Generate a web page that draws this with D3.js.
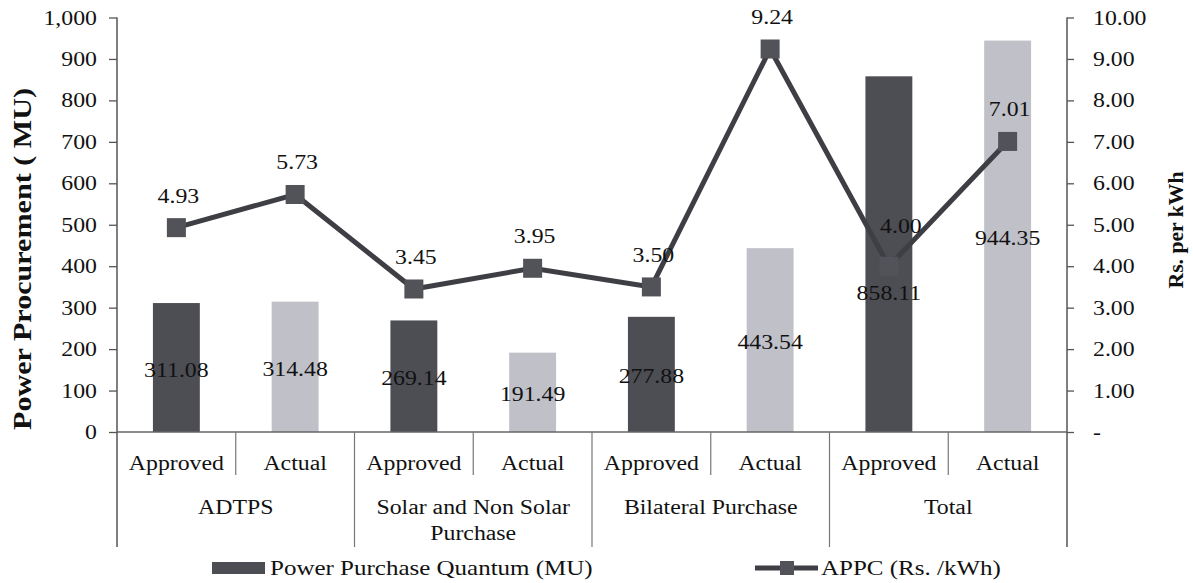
<!DOCTYPE html>
<html>
<head>
<meta charset="utf-8">
<script src="https://cdn.jsdelivr.net/npm/d3@7"></script>
<style>
  html, body { margin: 0; padding: 0; background: #fff; }
  svg { display: block; }
  text { font-family: "Liberation Serif", "Times New Roman", serif; fill: #111; }
</style>
</head>
<body>
<svg id="chart" width="1193" height="583"></svg>
<script>
// ---- Data ----
const groups = ["ADTPS", "Solar and Non Solar Purchase", "Bilateral Purchase", "Total"];
const subCategories = ["Approved", "Actual"];
const quantum = [311.08, 314.48, 269.14, 191.49, 277.88, 443.54, 858.11, 944.35];
const appc = [4.93, 5.73, 3.45, 3.95, 3.50, 9.24, 4.00, 7.01];
const leftTicks = [0, 100, 200, 300, 400, 500, 600, 700, 800, 900, 1000];
const rightTicks = [0, 1, 2, 3, 4, 5, 6, 7, 8, 9, 10];
const leftTitle = "Power Procurement ( MU)";
const rightTitle = "Rs. per kWh";
const legendLabels = ["Power Purchase Quantum (MU)", "APPC (Rs. /kWh)"];

// ---- Layout ----
const W = 1193, H = 583;
const plot = { left: 117, right: 1067, top: 17.5, bottom: 432 };
const SX = 1.19; // horizontal stretch of the reference text
const darkBar = "#4d4d54", lightBar = "#c0c0c8", lineColor = "#3e3e45", markerColor = "#525259";
const axisColor = "#555";

const svg = d3.select("#chart");

const items = [];
groups.forEach((g, gi) => subCategories.forEach((s, si) => items.push({ g, gi, s, si })));
items.forEach((d, i) => { d.q = quantum[i]; d.p = appc[i]; d.i = i; });

const x = d3.scaleBand().domain(items.map(d => d.i)).range([plot.left, plot.right]).padding(0);
const yL = d3.scaleLinear().domain([0, 1000]).range([plot.bottom, plot.top]);
const yR = d3.scaleLinear().domain([0, 10]).range([plot.bottom, plot.top]);
const bw = x.bandwidth();
const barW = bw * 0.395;

function stretchedText(sel, xPos, yPos, str, opts = {}) {
  const t = sel.append("text")
    .attr("transform", `translate(${xPos},${yPos}) scale(${SX},1)`)
    .attr("text-anchor", opts.anchor || "middle")
    .attr("dy", opts.dy || "0.35em")
    .style("font-size", (opts.size || 20) + "px")
    .text(str);
  if (opts.weight) t.style("font-weight", opts.weight);
  return t;
}

// ---- Bars ----
svg.append("g").selectAll("rect").data(items).join("rect")
  .attr("x", d => x(d.i) + (bw - barW) / 2)
  .attr("y", d => yL(d.q))
  .attr("width", barW)
  .attr("height", d => yL(0) - yL(d.q))
  .attr("fill", d => d.si === 0 ? darkBar : lightBar);

// ---- Axes ----
const axL = d3.axisLeft(yL).tickValues(leftTicks).tickSize(8).tickFormat(d3.format(","));
const gL = svg.append("g").attr("transform", `translate(${plot.left},0)`).call(axL);
gL.select(".domain").remove();
gL.selectAll(".tick line").attr("stroke", axisColor).attr("stroke-width", 1.3);
gL.selectAll(".tick text").remove();
leftTicks.forEach(v => stretchedText(svg, 97, yL(v), d3.format(",")(v), { anchor: "end" }));

const axR = d3.axisRight(yR).tickValues(rightTicks).tickSize(7);
const gR = svg.append("g").attr("transform", `translate(${plot.right},0)`).call(axR);
gR.select(".domain").remove();
gR.selectAll(".tick line").attr("stroke", axisColor).attr("stroke-width", 1.3);
gR.selectAll(".tick text").remove();
rightTicks.forEach(v => stretchedText(svg, 1093, yR(v), v === 0 ? "-" : d3.format(".2f")(v), { anchor: "start" }));

// axis lines (extended down through category area)
const catBottom = 547, subBottom = 475;
svg.append("line").attr("x1", plot.left).attr("x2", plot.left).attr("y1", plot.top).attr("y2", catBottom)
  .attr("stroke", axisColor).attr("stroke-width", 1.5);
svg.append("line").attr("x1", plot.right).attr("x2", plot.right).attr("y1", plot.top).attr("y2", catBottom)
  .attr("stroke", axisColor).attr("stroke-width", 1.5);
svg.append("line").attr("x1", plot.left).attr("x2", plot.right).attr("y1", plot.bottom).attr("y2", plot.bottom)
  .attr("stroke", "#666").attr("stroke-width", 1.5);

// category separators
items.forEach((d, i) => {
  if (i === 0) return;
  const xx = x(d.i);
  svg.append("line").attr("x1", xx).attr("x2", xx).attr("y1", plot.bottom)
    .attr("y2", d.si === 0 ? catBottom : subBottom)
    .attr("stroke", "#777").attr("stroke-width", 1.2);
});

// sub-category labels
items.forEach(d => stretchedText(svg, x(d.i) + bw / 2, 463, d.s));

// group labels (wrapped)
groups.forEach((g, gi) => {
  const cx = x(gi * 2) + bw;
  const maxW = bw * 2 - 20;
  const words = g.split(" ");
  const lines = [];
  let cur = [];
  const probe = svg.append("text").style("font-size", "20px");
  words.forEach(w => {
    const test = cur.concat([w]).join(" ");
    probe.text(test);
    if (probe.node().getComputedTextLength() * SX > maxW && cur.length) {
      lines.push(cur.join(" "));
      cur = [w];
    } else cur.push(w);
  });
  lines.push(cur.join(" "));
  probe.remove();
  lines.forEach((ln, li) => stretchedText(svg, cx, 507 + li * 26, ln));
});

// ---- Line ----
const line = d3.line().x(d => x(d.i) + bw / 2).y(d => yR(d.p));
svg.append("path").datum(items).attr("d", line)
  .attr("fill", "none").attr("stroke", lineColor).attr("stroke-width", 5).attr("stroke-linejoin", "miter");
const ms = 19;
svg.append("g").selectAll("rect").data(items).join("rect")
  .attr("x", d => x(d.i) + bw / 2 - ms / 2)
  .attr("y", d => yR(d.p) - ms / 2)
  .attr("width", ms).attr("height", ms)
  .attr("fill", markerColor);

// ---- Data labels ----
items.forEach(d => {
  const cx = x(d.i) + bw / 2;
  const my = yR(d.p);
  let ly = (yL(d.q) + yL(0)) / 2 + 2;
  let py = my - 32, px = cx + 2;
  if (Math.abs(ly - my) < 22) { ly = my + 27; py = my - 40; px = cx + 12; } // avoid overlapping the marker
  stretchedText(svg, cx, ly, d3.format(".2f")(d.q));
  stretchedText(svg, px, py, d3.format(".2f")(d.p));
});

// ---- Axis titles ----
svg.append("text")
  .attr("transform", `translate(22,259) rotate(-90)`)
  .attr("text-anchor", "middle").attr("dy", "0.35em")
  .style("font-size", "26px").style("font-weight", "bold")
  .attr("textLength", 342).attr("lengthAdjust", "spacingAndGlyphs")
  .text(leftTitle);
svg.append("text")
  .attr("transform", `translate(1176,230) rotate(-90)`)
  .attr("text-anchor", "middle").attr("dy", "0.35em")
  .style("font-size", "21px").style("font-weight", "bold")
  .attr("textLength", 117).attr("lengthAdjust", "spacingAndGlyphs")
  .text(rightTitle);

// ---- Legend ----
const lg = svg.append("g");
lg.append("rect").attr("x", 212).attr("y", 562).attr("width", 53).attr("height", 12).attr("fill", darkBar);
stretchedText(lg, 270, 568, legendLabels[0], { anchor: "start", size: 21 });
lg.append("line").attr("x1", 755).attr("x2", 818).attr("y1", 568).attr("y2", 568)
  .attr("stroke", lineColor).attr("stroke-width", 5);
lg.append("rect").attr("x", 787 - 7).attr("y", 568 - 7).attr("width", 14).attr("height", 14).attr("fill", markerColor);
stretchedText(lg, 821, 568, legendLabels[1], { anchor: "start", size: 21 });
</script>
</body>
</html>
